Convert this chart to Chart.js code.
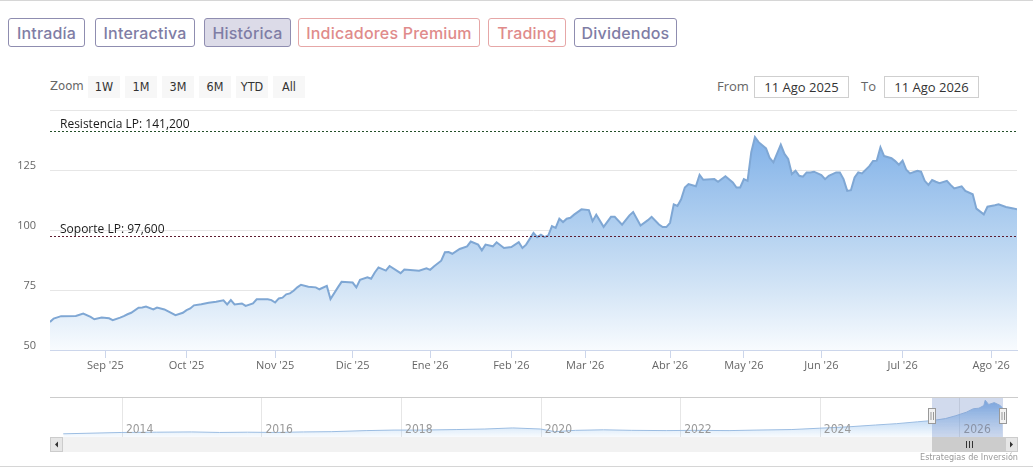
<!DOCTYPE html>
<html>
<head>
<meta charset="utf-8">
<script src="https://cdn.jsdelivr.net/npm/chart.js@4.4.1/dist/chart.umd.min.js"></script>
<style>
body{margin:0;width:1033px;height:470px;position:relative;background:#fff;overflow:hidden;font-family:"Open Sans",sans-serif}
.hline{position:absolute;left:0;width:1033px;height:1px;background:#d6d6d6}
.tab{position:absolute;top:18px;height:27px;border:1px solid #8f8db0;border-radius:3px;color:#7f7da5;font:500 16px Inter,sans-serif;line-height:28px;letter-spacing:0.2px;text-align:center;box-sizing:content-box;overflow:hidden}
.tab.red{border-color:#e6a7a7;color:#e08b8b}
.tab.on{background:#dcdbe8}
.zlabel{position:absolute;left:50px;top:78px;font:13px "DejaVu Sans Condensed",sans-serif;color:#666}
.zbtn{position:absolute;top:76px;width:32px;height:22px;background:#f7f7f7;text-align:center;font:12.5px "DejaVu Sans Condensed",sans-serif;line-height:22px;color:#333}
.flabel{position:absolute;top:77px;font:13px "Open Sans",sans-serif;color:#666}
.fbox{position:absolute;top:76px;width:93px;height:20px;border:1px solid #cfcfcf;font:13px "Open Sans",sans-serif;line-height:20px;color:#333;text-align:center}
#main{position:absolute;left:0;top:100px}
#nav{position:absolute;left:50px;top:397px}
.credits{position:absolute;right:15px;top:452px;font:9px "DejaVu Sans Condensed",sans-serif;color:#999}
</style>
</head>
<body>
<div class="hline" style="top:0"></div>
<div class="tab" style="left:8px;width:75px">Intradía</div>
<div class="tab" style="left:95px;width:98px">Interactiva</div>
<div class="tab on" style="left:204px;width:85px">Histórica</div>
<div class="tab red" style="left:298px;width:180px">Indicadores Premium</div>
<div class="tab red" style="left:488px;width:76px">Trading</div>
<div class="tab" style="left:574px;width:101px">Dividendos</div>

<div class="zlabel">Zoom</div>
<div class="zbtn" style="left:88px">1W</div>
<div class="zbtn" style="left:125px">1M</div>
<div class="zbtn" style="left:162px">3M</div>
<div class="zbtn" style="left:199px">6M</div>
<div class="zbtn" style="left:236px">YTD</div>
<div class="zbtn" style="left:273px">All</div>
<div class="flabel" style="left:717px">From</div>
<div class="fbox" style="left:754px">11 Ago 2025</div>
<div class="flabel" style="left:861px">To</div>
<div class="fbox" style="left:884px">11 Ago 2026</div>

<canvas id="main" width="1033" height="280"></canvas>
<canvas id="nav" width="968" height="56"></canvas>
<div class="credits">Estrategias de Inversión</div>
<div class="hline" style="top:466px"></div>

<script>
// sesiones bursatiles desde el 11 ago 2025 y cierre
const sessions = [0,1,3,7,9,11,12,14,16,17,19,20,21,22,24,25,26,28,29,31,34,36,37,38,39,41,43,45,47,48,49,50,52,53,55,56,59,60,61,62,63,64,65,66,67,68,70,72,73,75,76,78,79,82,83,84,86,87,88,89,91,92,95,96,100,102,103,104,106,107,108,109,111,113,114,116,117,118,120,121,123,125,127,128,129,131,132,133,134,135,136,137,138,139,140,141,142,144,146,147,148,150,152,153,155,157,158,160,162,163,165,166,167,168,169,170,171,172,173,175,176,177,180,181,183,185,186,187,188,189,190,191,192,194,195,196,198,199,200,201,202,203,204,205,206,207,209,210,211,213,214,215,216,217,218,219,220,222,223,224,225,226,228,229,230,231,232,233,235,236,237,238,239,240,241,243,244,245,247,248,250,251,253,254,256,257,259,261,262];
const closes = [61.7,63.1,64.1,64.2,65.2,63.8,62.8,63.5,63.2,62.4,63.5,64.1,64.9,65.5,67.6,67.7,68.1,66.9,67.7,66.9,64.5,65.5,66.6,67.3,68.6,69.1,69.7,70.1,70.7,69.0,70.8,69.0,69.4,68.4,69.4,71.1,71.1,70.8,69.8,71.5,71.8,73.2,73.6,74.7,76.1,77.2,76.4,76.1,75.3,76.7,71.2,76.1,78.4,78.1,76.1,79.2,80.3,79.7,82.3,84.4,83.1,85.0,82.0,83.5,83.0,84.0,83.4,84.8,87.2,90.7,90.8,90.1,92.1,93.2,95.2,93.9,91.5,93.9,93.2,94.9,92.5,92.9,94.9,92.5,93.9,98.8,97.0,98.0,97.0,97.7,101.6,100.9,104.7,103.3,104.7,105.1,106.4,108.6,108.3,103.7,106.4,101.3,105.5,105.5,102.2,106.1,107.5,101.9,104.1,105.5,102.3,101.2,101.2,103.0,110.7,110.0,112.8,117.7,119.1,118.2,123.0,120.9,121.2,120.1,122.4,119.8,117.7,117.7,121.2,120.5,132.4,138.7,136.6,134.0,130.0,128.2,135.6,131.7,129.6,123.3,124.7,122.6,122.2,124.0,124.0,124.3,122.9,121.2,122.6,124.0,124.0,121.2,116.3,116.6,121.9,124.0,123.6,126.6,128.8,128.9,134.5,130.8,129.9,128.7,127.2,128.9,125.1,123.6,124.7,124.3,120.5,118.8,120.8,120.1,119.5,120.5,118.8,117.3,118.2,116.3,114.9,108.9,106.5,109.7,110.3,110.7,109.6,109.0,108.6];

const monthTicks = [15,37,61,82,103,125,145,168,188,209,231,255];
const monthLabels = ["Sep '25","Oct '25","Nov '25","Dic '25","Ene '26","Feb '26","Mar '26","Abr '26","May '26","Jun '26","Jul '26","Ago '26"];
const yTicks = [50,75,100,125,150];

const levelValues = [141.2, 97.6];
const levelNames = ["Resistencia LP: 141,200", "Soporte LP: 97,600"];
const levelColors = ["#24502a", "#5e1c30"];

// navegador: historico completo
const navYears = [2013.16,2013.5,2014.0,2014.5,2015.0,2015.4,2015.8,2016.2,2016.6,2017.0,2017.5,2017.9,2018.3,2018.8,2019.2,2019.6,2020.0,2020.2,2020.5,2020.9,2021.3,2021.8,2022.2,2022.7,2023.1,2023.6,2024.0,2024.4,2024.8,2025.1,2025.4,2025.62,2025.8,2025.95,2026.1,2026.2,2026.28,2026.35,2026.37,2026.42,2026.5,2026.58,2026.62];
const navValues = [12,14,17,18,19,17,18,17,19,20,24,26,26,28,30,34,30,20,25,27,25,24,25,24,26,28,33,38,45,50,57,62,69,80,93,106,108,118,138,122,129,119,108.6];
const navYearTicks = [2014,2016,2018,2020,2022,2024,2026];
const rangeFrom = 2025.61, rangeTo = 2026.62;

function mainFill(c) {
  const a = c.chart.chartArea;
  if (!a) return 'rgba(124,181,236,0.5)';
  const g = c.chart.ctx.createLinearGradient(0, a.top, 0, a.bottom);
  g.addColorStop(0, '#74a9e6');
  g.addColorStop(0.5, '#b3d1f0');
  g.addColorStop(0.75, '#d4e5f6');
  g.addColorStop(1, '#f8fbfe');
  return g;
}

const levelLines = {
  id: 'levelLines',
  afterDatasetsDraw(chart) {
    const ctx = chart.ctx, a = chart.chartArea, y = chart.scales.y;
    levelValues.forEach((v, i) => {
      const py = Math.round(y.getPixelForValue(v)) + 0.5;
      ctx.save();
      ctx.strokeStyle = levelColors[i];
      ctx.lineWidth = 1;
      ctx.setLineDash([2, 2]);
      ctx.beginPath();
      ctx.moveTo(a.left, py);
      ctx.lineTo(a.right, py);
      ctx.stroke();
      ctx.setLineDash([]);
      ctx.fillStyle = '#1a1a1a';
      ctx.font = '12px "Open Sans"';
      ctx.textBaseline = 'alphabetic';
      ctx.fillText(levelNames[i], a.left + 10, py - 4);
      ctx.restore();
    });
  }
};

new Chart(document.getElementById('main'), {
  type: 'line',
  data: {
    datasets: [{
      data: sessions.map((s, i) => ({x: s, y: closes[i]})),
      borderColor: '#7fa7d4',
      borderWidth: 2,
      pointRadius: 0,
      tension: 0,
      fill: 'start',
      backgroundColor: mainFill
    }]
  },
  options: {
    responsive: false,
    animation: false,
    events: [],
    layout: {padding: {top: 10, right: 16, left: 0, bottom: 0}},
    plugins: {legend: {display: false}, tooltip: {enabled: false}},
    scales: {
      x: {
        type: 'linear', min: 0, max: 262,
        afterBuildTicks: s => { s.ticks = monthTicks.map(v => ({value: v})); },
        afterFit: s => { s.height = 30; s.paddingLeft = 0; s.paddingRight = 0; },
        ticks: {
          autoSkip: false, maxRotation: 0, padding: 1,
          color: '#666', font: {family: 'Open Sans', size: 11},
          callback: v => monthLabels[monthTicks.indexOf(v)]
        },
        grid: {drawOnChartArea: false, drawTicks: true, tickLength: 8, color: '#ccd6eb'},
        border: {color: '#ccd6eb'}
      },
      y: {
        min: 50, max: 150,
        afterBuildTicks: s => { s.ticks = yTicks.map(v => ({value: v})); },
        afterFit: s => { s.width = 50; s.paddingTop = 0; s.paddingBottom = 0; },
        ticks: {
          padding: 14, labelOffset: -4,
          color: '#666', font: {family: 'Open Sans', size: 11},
          callback: v => v === 150 ? '' : v
        },
        grid: {color: '#e6e6e6', drawTicks: false},
        border: {display: false}
      }
    }
  },
  plugins: [levelLines]
});

// navegador + barra de desplazamiento
function navFill(c) {
  const a = c.chart.chartArea;
  if (!a) return 'rgba(124,181,236,0.3)';
  const g = c.chart.ctx.createLinearGradient(0, a.top, 0, a.bottom);
  g.addColorStop(0, 'rgba(110,165,228,0.95)');
  g.addColorStop(1, 'rgba(124,181,236,0.05)');
  return g;
}

const navDecor = {
  id: 'navDecor',
  beforeDatasetsDraw(chart) {
    const ctx = chart.ctx, a = chart.chartArea, x = chart.scales.x;
    ctx.save();
    ctx.strokeStyle = '#e6e6e6';
    ctx.lineWidth = 1;
    navYearTicks.forEach(yr => {
      const px = Math.round(x.getPixelForValue(yr)) + 0.5;
      ctx.beginPath();
      ctx.moveTo(px, a.top);
      ctx.lineTo(px, a.bottom);
      ctx.stroke();
    });
    ctx.restore();
  },
  afterDatasetsDraw(chart) {
    const ctx = chart.ctx, a = chart.chartArea, x = chart.scales.x;
    const W = chart.width;
    ctx.save();
    ctx.fillStyle = '#999';
    ctx.font = '12px "DejaVu Sans Condensed"';
    navYearTicks.forEach(yr => {
      ctx.fillText(String(yr), x.getPixelForValue(yr) + 4, a.bottom - 4);
    });
    // mascara de rango
    const x1 = Math.round(x.getPixelForValue(rangeFrom));
    const x2 = Math.round(x.getPixelForValue(rangeTo));
    ctx.fillStyle = 'rgba(102,133,194,0.3)';
    ctx.fillRect(x1, a.top, x2 - x1, a.bottom - a.top);
    // contorno superior
    ctx.strokeStyle = '#cccccc';
    ctx.beginPath();
    ctx.moveTo(0, a.top + 0.5);
    ctx.lineTo(W, a.top + 0.5);
    ctx.stroke();
    // barra
    const sy = a.bottom, sh = 15, bw = 13;
    ctx.fillStyle = '#f2f2f2';
    ctx.fillRect(0, sy, W, sh);
    ctx.fillStyle = '#cccccc';
    ctx.fillRect(x1, sy, Math.min(x2 + 3, W - bw) - x1, sh);
    ctx.strokeStyle = '#333';
    for (let k = -1; k <= 1; k++) {
      const gx = Math.round((x1 + Math.min(x2 + 3, W - bw)) / 2) + k * 3 + 0.5;
      ctx.beginPath();
      ctx.moveTo(gx, sy + 4);
      ctx.lineTo(gx, sy + 11);
      ctx.stroke();
    }
    [[0, 1], [W - bw, -1]].forEach(([bx, dir]) => {
      ctx.fillStyle = '#e6e6e6';
      ctx.fillRect(bx, sy, bw, sh);
      ctx.strokeStyle = '#cccccc';
      ctx.strokeRect(bx + 0.5, sy + 0.5, bw - 1, sh - 1);
      ctx.fillStyle = '#333';
      const cx = bx + bw / 2, cy = sy + sh / 2;
      ctx.beginPath();
      ctx.moveTo(cx - 1.5 * dir, cy);
      ctx.lineTo(cx + 1.5 * dir, cy - 3);
      ctx.lineTo(cx + 1.5 * dir, cy + 3);
      ctx.closePath();
      ctx.fill();
    });
    // asas
    [x1, x2].forEach(hx => {
      const hy = a.top + 11;
      ctx.fillStyle = '#f2f2f2';
      ctx.fillRect(hx - 3.5, hy, 7, 15);
      ctx.strokeStyle = '#999';
      ctx.strokeRect(hx - 3.5, hy + 0.5, 7, 15);
      ctx.beginPath();
      ctx.moveTo(hx - 1, hy + 4); ctx.lineTo(hx - 1, hy + 12);
      ctx.moveTo(hx + 1.5, hy + 4); ctx.lineTo(hx + 1.5, hy + 12);
      ctx.stroke();
    });
    ctx.restore();
  }
};

new Chart(document.getElementById('nav'), {
  type: 'line',
  data: {
    datasets: [{
      data: navYears.map((yr, i) => ({x: yr, y: navValues[i]})),
      borderColor: '#9cbde2',
      borderWidth: 1,
      pointRadius: 0,
      tension: 0,
      fill: 'start',
      backgroundColor: navFill
    }]
  },
  options: {
    responsive: false,
    animation: false,
    events: [],
    layout: {padding: {top: 0, right: 0, left: 0, bottom: 16}},
    plugins: {legend: {display: false}, tooltip: {enabled: false}},
    scales: {
      x: {type: 'linear', min: 2012.97, max: 2026.84, display: false},
      y: {min: 0, max: 150, display: false}
    }
  },
  plugins: [navDecor]
});
</script>
</body>
</html>
